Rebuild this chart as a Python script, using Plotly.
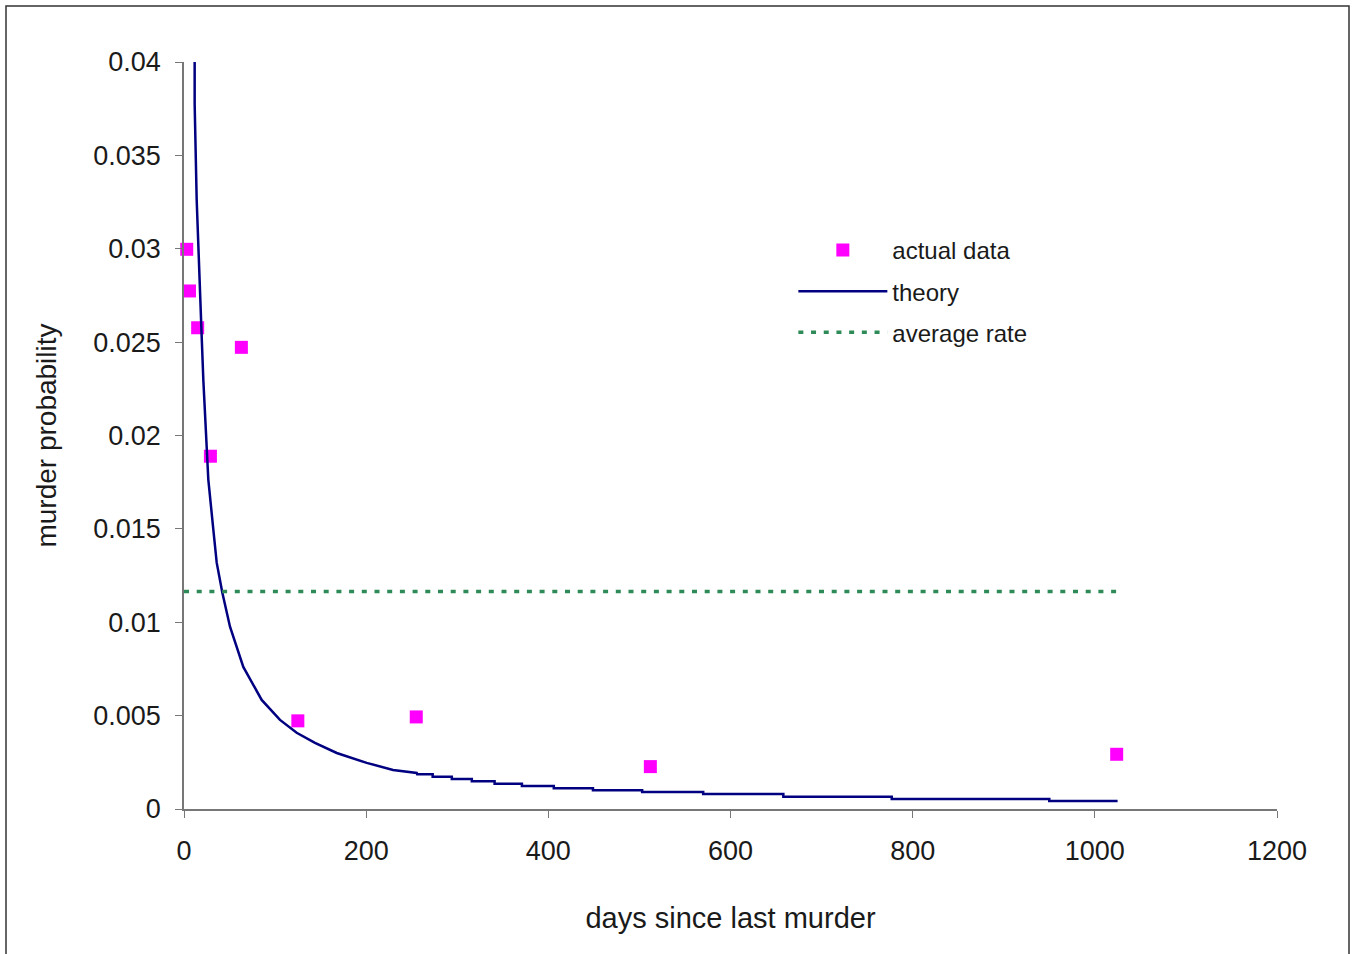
import plotly.graph_objects as go

# ---- data ----
actual_days = [3, 6, 15, 29, 63, 125, 255, 512, 1024]
actual_prob = [0.02997, 0.02774, 0.02577, 0.01889, 0.02472, 0.00472, 0.00493, 0.00227, 0.00293]

# smooth early part of the theory curve
theory_days = [11.7, 11.7, 13.9, 18.3, 19.4, 21.2, 23.8, 26.7, 32.2, 35.9, 42.1, 50.5,
               65.1, 85.3, 105.4, 123.7, 143.8, 167.7, 200.6, 229.5, 255.5]
theory_prob = [0.0404, 0.03775, 0.03265, 0.02747, 0.02532, 0.02300, 0.02032, 0.01764,
               0.01496, 0.01319, 0.01158, 0.00976, 0.00761, 0.00584, 0.00477, 0.00408,
               0.00354, 0.00300, 0.00247, 0.00209, 0.00193]
# stair-step tail of the theory curve (level starts at step_days[i], ends at step_days[i+1])
step_days = [256, 273, 294, 316, 341, 371, 406, 449, 503, 570, 658, 777, 950, 1025]
step_prob = [0.00186, 0.00173, 0.00161, 0.00148, 0.00135, 0.00123, 0.00111, 0.00100,
             0.00091, 0.00080, 0.00066, 0.00054, 0.00043]

avg_days = [0, 1025]
avg_prob = [0.01164, 0.01164]

x_ticks = [0, 200, 400, 600, 800, 1000, 1200]
y_ticks = [0, 0.005, 0.01, 0.015, 0.02, 0.025, 0.03, 0.035, 0.04]
y_tick_text = ["0", "0.005", "0.01", "0.015", "0.02", "0.025", "0.03", "0.035", "0.04"]

# build staircase from levels
tx = list(theory_days)
ty = list(theory_prob)
for i, lvl in enumerate(step_prob):
    tx += [step_days[i], step_days[i + 1]]
    ty += [lvl, lvl]

FONT = "Liberation Sans, Arial, sans-serif"

fig = go.Figure()
fig.add_trace(go.Scatter(
    x=actual_days, y=actual_prob, mode="markers", name="actual data",
    marker=dict(symbol="square", size=13, color="#FF00FF"),
    cliponaxis=False, legendgroup="a"))
fig.add_trace(go.Scatter(
    x=tx, y=ty, mode="lines", name="theory",
    line=dict(color="#000080", width=2.5), legendgroup="b"))
fig.add_trace(go.Scatter(
    x=avg_days, y=avg_prob, mode="lines", name="average rate",
    line=dict(color="#2E8B57", width=3.5, dash="5px,7.7px"), legendgroup="c"))

fig.update_layout(
    width=1353, height=954,
    margin=dict(l=184, r=76, t=62, b=145),
    paper_bgcolor="white", plot_bgcolor="white",
    font=dict(family=FONT, size=27, color="#1a1a1a"),
    showlegend=True,
    legend=dict(x=0.5575, y=0.778, xanchor="left", yanchor="top",
                font=dict(size=24, family=FONT, color="#1a1a1a"),
                bgcolor="rgba(0,0,0,0)", itemwidth=89,
                traceorder="grouped", tracegroupgap=7),
    xaxis=dict(range=[0, 1200], tickvals=x_ticks, ticks="outside", ticklen=7,
               tickcolor="#777777", showline=True, linecolor="#777777", linewidth=1.5,
               showgrid=False, zeroline=False, ticklabelstandoff=10,
               title=dict(text="days since last murder", standoff=43,
                          font=dict(size=29, family=FONT, color="#1a1a1a")),
               tickfont=dict(size=27)),
    yaxis=dict(range=[0, 0.04], tickvals=y_ticks, ticktext=y_tick_text, ticks="outside",
               ticklen=7, tickcolor="#777777", showline=True, linecolor="#777777",
               linewidth=1.5, showgrid=False, zeroline=False, ticklabelstandoff=9,
               title=dict(text="murder probability", standoff=28,
                          font=dict(size=28, family=FONT, color="#1a1a1a")),
               tickfont=dict(size=27)),
)

# outer chart border
fig.add_shape(type="rect", xref="paper", yref="paper",
              x0=(6 - 184) / 1093, x1=(1349 - 184) / 1093,
              y0=-0.3, y1=(809 - 6) / 747,
              line=dict(color="#333333", width=1.5), layer="below")

fig.write_html("out.html")
